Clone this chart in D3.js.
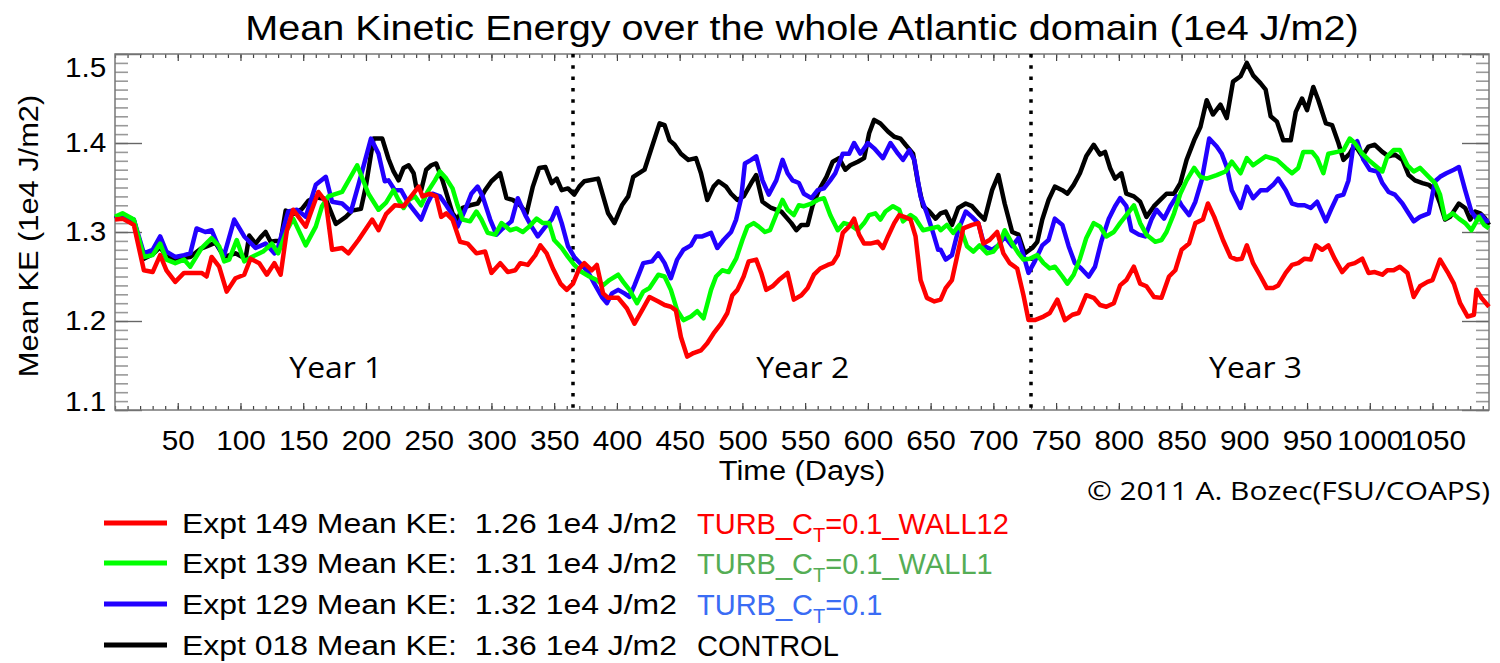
<!DOCTYPE html>
<html>
<head>
<meta charset="utf-8">
<script src="https://d3js.org/d3.v7.min.js"></script>
<style>
  body { margin: 0; background: #fff; }
  svg { display: block; }
</style>
</head>
<body>
<div id="chart"></div>
<script>
const expt149 = [[0,1.314],[6,1.315],[15,1.308],[23,1.257],[30,1.255],[36,1.274],[41,1.257],[48,1.244],[55,1.254],[69,1.254],[73,1.250],[77,1.272],[83,1.261],[89,1.233],[96,1.248],[103,1.252],[108,1.270],[115,1.265],[121,1.252],[127,1.265],[132,1.252],[137,1.302],[142,1.325],[152,1.306],[162,1.345],[168,1.334],[173,1.280],[181,1.282],[186,1.276],[194,1.291],[205,1.314],[210,1.302],[216,1.320],
  [223,1.330],[230,1.329],[236,1.340],[242,1.351],[245,1.340],[251,1.343],[256,1.340],[260,1.317],[264,1.321],[269,1.314],[275,1.289],[281,1.287],[288,1.276],[295,1.278],[300,1.254],[307,1.265],[313,1.255],[319,1.257],[323,1.265],[329,1.263],[335,1.274],[339,1.285],[344,1.276],[349,1.259],[355,1.242],[360,1.235],[365,1.242],[370,1.259],[374,1.265],[380,1.257],[384,1.263],[389,1.231],[393,1.226],[401,1.226],[408,1.214],[414,1.197],[420,1.212],[426,1.227],[433,1.222],
  [438,1.218],[443,1.216],[447,1.212],[451,1.182],[456,1.160],[461,1.164],[467,1.167],[472,1.175],[477,1.186],[483,1.197],[488,1.209],[492,1.229],[496,1.235],[501,1.250],[505,1.267],[511,1.269],[515,1.254],[519,1.235],[524,1.239],[529,1.246],[536,1.254],[541,1.224],[547,1.229],[552,1.237],[557,1.252],[562,1.259],[568,1.263],[572,1.265],[576,1.274],[580,1.299],[585,1.306],[589,1.315],[593,1.297],[597,1.287],[602,1.287],[608,1.289],[612,1.282],[616,1.295],[621,1.310],[625,1.319],[629,1.317],[634,1.314],[638,1.295],[642,1.246],[647,1.226],[653,1.222],
  [658,1.224],[662,1.237],[667,1.246],[671,1.272],[676,1.304],[683,1.308],[688,1.310],[692,1.287],[697,1.291],[703,1.300],[708,1.276],[713,1.265],[719,1.259],[724,1.229],[728,1.201],[733,1.201],[740,1.205],[745,1.209],[751,1.224],[757,1.201],[763,1.207],[768,1.209],[774,1.229],[780,1.226],[785,1.218],[790,1.216],[796,1.220],[801,1.240],[806,1.246],[812,1.261],[817,1.242],[822,1.239],[828,1.227],[834,1.226],[840,1.250],[845,1.257],[850,1.280],[856,1.287],[861,1.310],[867,1.314],[871,1.332],
  [876,1.317],[883,1.291],[889,1.272],[894,1.269],[898,1.270],[902,1.285],[907,1.265],[913,1.250],[918,1.237],[923,1.237],[927,1.240],[933,1.254],[938,1.263],[943,1.265],[948,1.270],[953,1.269],[957,1.285],[962,1.280],[967,1.285],[972,1.270],[978,1.255],[983,1.263],[988,1.265],[994,1.270],[999,1.254],[1004,1.255],[1010,1.252],[1014,1.257],[1019,1.257],[1024,1.261],[1030,1.254],[1035,1.227],[1040,1.239],[1046,1.244],[1050,1.246],[1056,1.269],[1062,1.255],[1067,1.242],[1072,1.220],[1078,1.205],[1083,1.207],[1085,1.235],[1089,1.226],[1095,1.216]];

const expt139 = [[0,1.317],[6,1.321],[15,1.314],[23,1.272],[30,1.274],[36,1.287],[41,1.269],[48,1.265],[55,1.269],[60,1.261],[69,1.282],[77,1.293],[83,1.284],[87,1.267],[91,1.269],[97,1.291],[103,1.267],[109,1.272],[118,1.278],[125,1.287],[130,1.276],[137,1.302],[142,1.315],[152,1.285],[160,1.306],[165,1.329],[170,1.340],[181,1.345],[193,1.375],[202,1.343],[210,1.325],[216,1.333],
  [222,1.347],[226,1.336],[230,1.327],[234,1.336],[239,1.340],[244,1.330],[249,1.345],[255,1.358],[259,1.368],[264,1.360],[269,1.349],[273,1.330],[277,1.314],[283,1.312],[288,1.323],[292,1.314],[297,1.299],[303,1.297],[308,1.310],[315,1.302],[320,1.304],[325,1.300],[330,1.306],[336,1.315],[341,1.310],[346,1.310],[350,1.291],[356,1.282],[361,1.272],[366,1.263],[372,1.255],[378,1.250],[384,1.246],[389,1.240],[394,1.246],[401,1.252],[405,1.244],[410,1.235],[416,1.220],[421,1.233],[426,1.237],[433,1.252],
  [438,1.250],[443,1.235],[448,1.212],[453,1.201],[459,1.205],[464,1.211],[469,1.203],[475,1.235],[479,1.250],[484,1.257],[489,1.255],[495,1.270],[500,1.291],[504,1.306],[509,1.310],[513,1.306],[518,1.300],[522,1.302],[528,1.323],[532,1.336],[536,1.325],[541,1.319],[545,1.330],[549,1.329],[555,1.332],[560,1.336],[565,1.338],[570,1.319],[576,1.302],[581,1.310],[586,1.308],[592,1.302],[597,1.310],[601,1.319],[606,1.321],[610,1.314],[614,1.323],[620,1.329],[625,1.325],[628,1.312],[634,1.319],[638,1.315],[644,1.302],[650,1.304],[656,1.306],
  [658,1.302],[663,1.308],[668,1.299],[673,1.308],[679,1.284],[684,1.278],[689,1.285],[695,1.276],[700,1.278],[705,1.287],[709,1.302],[715,1.287],[720,1.276],[724,1.269],[729,1.270],[735,1.274],[740,1.265],[745,1.259],[749,1.261],[755,1.250],[759,1.242],[764,1.252],[769,1.270],[774,1.293],[780,1.310],[785,1.306],[790,1.295],[796,1.300],[801,1.310],[806,1.319],[812,1.330],[817,1.310],[822,1.297],[829,1.289],[834,1.291],[838,1.300],[844,1.321],[849,1.343],[854,1.358],[860,1.372],[865,1.362],[870,1.360],
  [878,1.364],[885,1.368],[890,1.379],[897,1.366],[902,1.383],[907,1.375],[917,1.385],[926,1.381],[933,1.372],[938,1.366],[943,1.372],[947,1.390],[954,1.390],[958,1.383],[963,1.366],[967,1.388],[974,1.390],[979,1.392],[984,1.405],[988,1.400],[994,1.388],[999,1.381],[1004,1.375],[1010,1.368],[1014,1.385],[1019,1.392],[1024,1.392],[1030,1.375],[1035,1.368],[1040,1.372],[1047,1.362],[1052,1.355],[1056,1.342],[1060,1.315],[1066,1.321],[1071,1.315],[1076,1.310],[1081,1.302],[1087,1.317],[1091,1.308],[1095,1.304]];

const expt129 = [[0,1.315],[6,1.319],[15,1.314],[23,1.276],[30,1.280],[36,1.295],[41,1.278],[48,1.272],[55,1.274],[60,1.276],[65,1.304],[72,1.300],[77,1.302],[83,1.282],[87,1.274],[95,1.314],[103,1.295],[112,1.282],[120,1.287],[127,1.276],[129,1.278],[138,1.323],[145,1.325],[152,1.317],[160,1.353],[168,1.362],[173,1.334],[181,1.332],[188,1.323],[194,1.353],[204,1.405],[210,1.388],[215,1.357],
  [218,1.358],[223,1.347],[228,1.347],[234,1.332],[239,1.323],[244,1.314],[249,1.332],[253,1.343],[259,1.340],[264,1.330],[269,1.319],[273,1.306],[279,1.325],[284,1.343],[289,1.351],[293,1.340],[299,1.314],[304,1.297],[309,1.304],[316,1.312],[321,1.338],[327,1.319],[332,1.306],[337,1.295],[343,1.306],[348,1.314],[352,1.327],[356,1.310],[361,1.284],[366,1.272],[372,1.263],[377,1.255],[382,1.242],[388,1.227],[392,1.220],[396,1.231],[401,1.235],[406,1.231],[410,1.227],[414,1.240],[421,1.265],[428,1.267],[433,1.276],
  [438,1.265],[443,1.248],[448,1.269],[453,1.280],[459,1.285],[463,1.295],[468,1.295],[475,1.299],[480,1.282],[485,1.291],[491,1.300],[495,1.314],[499,1.338],[502,1.377],[507,1.381],[511,1.385],[516,1.358],[521,1.342],[527,1.358],[532,1.381],[536,1.366],[540,1.358],[545,1.355],[549,1.343],[555,1.338],[560,1.347],[565,1.349],[570,1.358],[574,1.366],[580,1.388],[585,1.388],[589,1.400],[594,1.388],[600,1.400],[605,1.394],[612,1.383],[618,1.400],[624,1.388],[628,1.381],[633,1.392],[637,1.381],[642,1.340],[647,1.321],[652,1.299],[656,1.280],
  [658,1.280],[662,1.269],[667,1.274],[672,1.302],[678,1.323],[683,1.317],[688,1.310],[693,1.284],[699,1.280],[704,1.285],[709,1.295],[715,1.284],[720,1.293],[724,1.274],[728,1.254],[733,1.267],[739,1.285],[744,1.291],[749,1.315],[755,1.308],[760,1.284],[765,1.265],[770,1.259],[776,1.250],[781,1.261],[786,1.289],[792,1.315],[797,1.329],[801,1.338],[806,1.329],[810,1.302],[816,1.297],[821,1.295],[826,1.314],[830,1.325],[836,1.315],[841,1.329],[846,1.340],[850,1.330],[856,1.319],[861,1.334],[866,1.358],[872,1.405],
  [878,1.396],[882,1.388],[886,1.373],[890,1.347],[897,1.327],[902,1.351],[907,1.338],[913,1.347],[918,1.347],[923,1.353],[927,1.360],[933,1.347],[938,1.332],[943,1.330],[948,1.330],[953,1.327],[958,1.334],[965,1.312],[969,1.325],[974,1.340],[979,1.342],[983,1.358],[987,1.398],[990,1.402],[995,1.381],[1000,1.370],[1006,1.368],[1010,1.355],[1015,1.345],[1020,1.342],[1026,1.332],[1030,1.323],[1035,1.312],[1040,1.317],[1047,1.321],[1052,1.357],[1056,1.362],[1061,1.366],[1067,1.370],[1071,1.373],[1076,1.347],[1081,1.323],[1085,1.315],[1089,1.319],[1093,1.312],[1095,1.313]];

const expt018 = [[0,1.315],[6,1.318],[15,1.313],[23,1.270],[30,1.275],[36,1.283],[41,1.272],[48,1.270],[55,1.271],[60,1.272],[68,1.281],[75,1.285],[80,1.288],[87,1.272],[96,1.276],[104,1.270],[107,1.296],[112,1.287],[116,1.294],[120,1.300],[124,1.289],[128,1.290],[132,1.290],[136,1.324],[142,1.320],[149,1.326],[154,1.335],[160,1.339],[168,1.337],[176,1.309],[184,1.317],[189,1.324],[196,1.326],[200,1.352],[206,1.405],[213,1.405],
  [218,1.382],[222,1.368],[226,1.358],[230,1.372],[234,1.375],[238,1.366],[240,1.351],[244,1.347],[248,1.370],[252,1.375],[256,1.377],[261,1.358],[269,1.321],[273,1.314],[277,1.327],[283,1.330],[289,1.332],[295,1.347],[300,1.357],[307,1.366],[312,1.338],[317,1.336],[323,1.330],[328,1.321],[333,1.351],[338,1.372],[343,1.373],[348,1.355],[352,1.360],[356,1.347],[361,1.349],[366,1.342],[370,1.351],[374,1.357],[385,1.360],[393,1.321],[398,1.310],[404,1.330],[409,1.340],[413,1.362],[422,1.370],[428,1.396],[434,1.422],
  [438,1.420],[442,1.403],[446,1.398],[451,1.388],[457,1.381],[463,1.383],[467,1.366],[472,1.336],[477,1.351],[481,1.357],[487,1.351],[491,1.343],[496,1.336],[501,1.340],[507,1.355],[511,1.364],[516,1.334],[523,1.327],[531,1.323],[539,1.310],[543,1.302],[547,1.308],[552,1.308],[556,1.330],[561,1.347],[567,1.362],[572,1.379],[577,1.383],[582,1.370],[586,1.375],[592,1.379],[597,1.383],[601,1.411],[605,1.426],[610,1.422],[616,1.413],[621,1.407],[626,1.405],[630,1.398],[636,1.388],[640,1.355],[644,1.329],[649,1.323],[654,1.315],
  [658,1.321],[662,1.323],[667,1.308],[672,1.327],[678,1.332],[683,1.329],[688,1.321],[693,1.314],[699,1.347],[704,1.364],[709,1.332],[715,1.300],[720,1.297],[725,1.276],[731,1.282],[735,1.289],[739,1.314],[744,1.336],[749,1.351],[755,1.347],[759,1.343],[764,1.353],[769,1.366],[774,1.385],[780,1.398],[785,1.387],[789,1.390],[793,1.372],[797,1.360],[802,1.366],[806,1.343],[812,1.340],[817,1.334],[822,1.317],[828,1.329],[833,1.336],[838,1.343],[844,1.343],[849,1.355],[854,1.381],[860,1.403],[865,1.418],[870,1.448],[875,1.432],
  [881,1.443],[886,1.428],[891,1.469],[897,1.475],[902,1.490],[907,1.476],[913,1.467],[917,1.460],[921,1.430],[926,1.424],[931,1.403],[937,1.403],[941,1.435],[946,1.450],[950,1.437],[955,1.463],[959,1.448],[965,1.422],[970,1.420],[975,1.400],[979,1.381],[984,1.388],[988,1.398],[994,1.385],[999,1.396],[1004,1.398],[1010,1.390],[1015,1.385],[1020,1.387],[1026,1.381],[1031,1.364],[1036,1.358],[1042,1.355],[1047,1.353],[1052,1.347],[1056,1.332],[1060,1.314],[1064,1.317],[1071,1.332],[1076,1.327],[1080,1.314],[1084,1.323],[1088,1.321],[1092,1.315],[1095,1.308]];

// legend
const exptIds = ["149", "139", "129", "018"];
const exptMeans = [1.26, 1.31, 1.32, 1.36];
const exptColors = ["#ff0000", "#00ff00", "#2200ff", "#000000"];
const configNames = [
    {base: "TURB_C", sub: "T", rest: "=0.1_WALL12"},
    {base: "TURB_C", sub: "T", rest: "=0.1_WALL1"},
    {base: "TURB_C", sub: "T", rest: "=0.1"},
    {base: "CONTROL", sub: "", rest: ""}
];
const configColors = ["#ff0000", "#55ad55", "#3a6cf4", "#000000"];

// axes
const dayDomain = [0, 1095];
const keDomain = [1.1, 1.5];
const xMajorTicks = d3.range(50, 1095, 50);
const xMinorTicks = d3.range(0, 1096, 10);
const yMajorTicks = [1.1, 1.2, 1.3, 1.4, 1.5];
const yMinorTicks = d3.range(110, 151).map(v => v / 100);
const yearBreaks = [365, 730];
const yearLabels = ["Year 1", "Year 2", "Year 3"];
const yearLabelDays = [176, 548, 909];

const width = 1500;
const height = 663;
const plot = {left: 115, right: 1489, top: 54, bottom: 410};
const stretch = "scale(1.1,1)";   // idl text is wider than helvetica

const svg = d3.select("#chart")
    .append("svg")
    .attr("width", width)
    .attr("height", height)
    .style("font-family", "'Liberation Sans', Arial, sans-serif");

const x = d3.scaleLinear().domain(dayDomain).range([plot.left, plot.right]);
const y = d3.scaleLinear().domain(keDomain).range([plot.bottom, plot.top]);

// title
svg.append("text")
    .attr("transform", `translate(${(plot.left + plot.right) / 2},40) ${stretch}`)
    .attr("text-anchor", "middle")
    .style("font-size", "36px")
    .text("Mean Kinetic Energy over the whole Atlantic domain (1e4 J/m2)");

// tick helper
function styleTicks(g, color, width) {
    g.select(".domain").remove();
    g.selectAll(".tick line").attr("stroke", color).attr("stroke-width", width);
}

// minor ticks first
svg.append("g")
    .attr("transform", `translate(0,${plot.bottom})`)
    .call(d3.axisBottom(x).tickValues(xMinorTicks).tickSize(-4).tickFormat(""))
    .call(g => styleTicks(g, "#444", 1.2));
svg.append("g")
    .attr("transform", `translate(0,${plot.top})`)
    .call(d3.axisTop(x).tickValues(xMinorTicks).tickSize(-4).tickFormat(""))
    .call(g => styleTicks(g, "#444", 1.2));
svg.append("g")
    .attr("transform", `translate(${plot.left},0)`)
    .call(d3.axisLeft(y).tickValues(yMinorTicks).tickSize(-13).tickFormat(""))
    .call(g => styleTicks(g, "#999", 1.6));
svg.append("g")
    .attr("transform", `translate(${plot.right},0)`)
    .call(d3.axisRight(y).tickValues(yMinorTicks).tickSize(-13).tickFormat(""))
    .call(g => styleTicks(g, "#999", 1.6));

// major ticks + labels
svg.append("g")
    .attr("transform", `translate(0,${plot.bottom})`)
    .call(d3.axisBottom(x).tickValues(xMajorTicks).tickSize(-7).tickPadding(21).tickFormat(d3.format("d")))
    .call(g => styleTicks(g, "#444", 1.2))
    .call(g => g.selectAll(".tick text")
        .attr("fill", "#000")
        .attr("transform", stretch)
        .style("font-size", "27px"));
svg.append("g")
    .attr("transform", `translate(0,${plot.top})`)
    .call(d3.axisTop(x).tickValues(xMajorTicks).tickSize(-7).tickFormat(""))
    .call(g => styleTicks(g, "#444", 1.2));
svg.append("g")
    .attr("transform", `translate(${plot.left},0)`)
    .call(d3.axisLeft(y).tickValues(yMajorTicks).tickSize(-27).tickPadding(8).tickFormat(d3.format(".1f")))
    .call(g => styleTicks(g, "#666", 1.4))
    .call(g => g.selectAll(".tick text")
        .attr("fill", "#000")
        .attr("transform", stretch)
        .style("font-size", "27px")
        // end labels are pushed inside the frame
        .attr("dy", d => d === 1.5 ? "0.85em" : d === 1.1 ? "0em" : "0.32em"));
svg.append("g")
    .attr("transform", `translate(${plot.right},0)`)
    .call(d3.axisRight(y).tickValues(yMajorTicks).tickSize(-27).tickFormat(""))
    .call(g => styleTicks(g, "#666", 1.4));

// frame
svg.append("rect")
    .attr("x", plot.left)
    .attr("y", plot.top)
    .attr("width", plot.right - plot.left)
    .attr("height", plot.bottom - plot.top)
    .attr("fill", "none")
    .attr("stroke", "#777")
    .attr("stroke-width", 1.5);

// axis titles
svg.append("text")
    .attr("transform", `translate(${(plot.left + plot.right) / 2},480) ${stretch}`)
    .attr("text-anchor", "middle")
    .style("font-size", "28px")
    .text("Time (Days)");

svg.append("text")
    .attr("transform", `translate(38,${(plot.top + plot.bottom) / 2 + 4}) rotate(-90) ${stretch}`)
    .attr("text-anchor", "middle")
    .style("font-size", "28px")
    .text("Mean KE (1e4 J/m2)");

// year separators
svg.selectAll(".year-break")
    .data(yearBreaks)
    .enter()
    .append("line")
    .attr("class", "year-break")
    .attr("x1", d => x(d))
    .attr("x2", d => x(d))
    .attr("y1", plot.top)
    .attr("y2", plot.bottom)
    .attr("stroke", "#000")
    .attr("stroke-width", 3.5)
    .attr("stroke-dasharray", "3.5,7.8");

svg.selectAll(".year-label")
    .data(yearLabels)
    .enter()
    .append("text")
    .attr("class", "year-label")
    .attr("transform", (d, i) => `translate(${x(yearLabelDays[i])},378) ${stretch}`)
    .attr("text-anchor", "middle")
    .style("font-family", "'Open Sans', sans-serif")
    .style("font-size", "29px")
    .text(d => d);

// series, control drawn first
const series = [
    {id: "018", values: expt018, color: exptColors[3]},
    {id: "129", values: expt129, color: exptColors[2]},
    {id: "139", values: expt139, color: exptColors[1]},
    {id: "149", values: expt149, color: exptColors[0]}
];

const line = d3.line()
    .x(d => x(d[0]))
    .y(d => y(d[1]));

svg.selectAll(".series")
    .data(series)
    .enter()
    .append("path")
    .attr("class", "series")
    .attr("d", d => line(d.values))
    .attr("fill", "none")
    .attr("stroke", d => d.color)
    .attr("stroke-width", 4.5)
    .attr("stroke-linejoin", "round");

// copyright
svg.append("text")
    .attr("transform", "translate(1490,500) scale(1.15,1)")
    .attr("text-anchor", "end")
    .style("font-family", "'Open Sans', sans-serif")
    .style("font-size", "26px")
    .text("\u00a9 2011 A. Bozec(FSU/COAPS)");

// legend
const legendRows = [523, 563, 604, 645];

const legend = svg.selectAll(".legend")
    .data(exptIds)
    .enter()
    .append("g")
    .attr("class", "legend")
    .attr("transform", (d, i) => `translate(0,${legendRows[i]})`);

legend.append("line")
    .attr("x1", 104)
    .attr("x2", 167)
    .attr("stroke", (d, i) => exptColors[i])
    .attr("stroke-width", 5);

legend.append("text")
    .attr("transform", "translate(182,10) scale(1.14,1)")
    .style("font-size", "28px")
    .style("white-space", "pre")
    .text((d, i) => `Expt ${d} Mean KE:  ${exptMeans[i].toFixed(2)} 1e4 J/m2`);

legend.append("text")
    .attr("x", 697)
    .attr("y", 11)
    .attr("fill", (d, i) => configColors[i])
    .style("font-family", "Arial, 'Liberation Sans', sans-serif")
    .style("font-size", "29px")
    .each(function(d, i) {
        const t = d3.select(this);
        const c = configNames[i];
        t.append("tspan").text(c.base);
        if (c.sub) {
            t.append("tspan").attr("dy", 8).style("font-size", "20px").text(c.sub);
            t.append("tspan").attr("dy", -8).text(c.rest);
        }
    });
</script>
</body>
</html>
